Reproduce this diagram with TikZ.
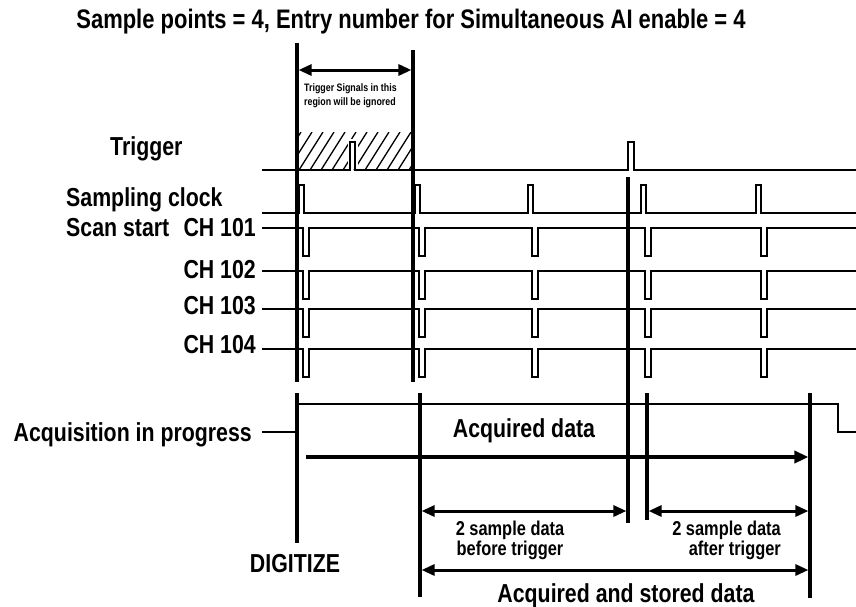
\documentclass[tikz,border=0pt]{standalone}
\usepackage{fontspec}
\setmainfont[FakeStretch=0.82]{Liberation Sans}
\usetikzlibrary{arrows.meta}

\begin{document}
\begin{tikzpicture}[x=1pt, y=-1pt,
    sig/.style={line width=1.8pt, line join=miter},
    bar/.style={line width=3.2pt},
    span/.style={line width=3pt, {Triangle[length=13pt,width=11pt]}-{Triangle[length=13pt,width=11pt]}},
    lbl/.style={font=\bfseries\fontsize{26}{28}\selectfont, inner sep=0pt},
    note/.style={font=\bfseries\fontsize{20}{17.5}\selectfont, inner sep=0pt, align=center}]
  \useasboundingbox (0,0) rectangle (856,606);

  % --- title ---------------------------------------------------------------
  \node[lbl, font=\bfseries\fontsize{26.8}{28}\selectfont, anchor=base] (title) at (411,28)
       {Sample points = 4, Entry number for Simultaneous AI enable = 4};

  % --- marker positions ------------------------------------------------------
  \coordinate (v1t) at (297,43);  \coordinate (v1b) at (297,382);
  \coordinate (v2t) at (413,50);  \coordinate (v2b) at (413,382);
  \coordinate (dgt) at (297,393); \coordinate (dgb) at (297,543);
  \coordinate (s1t) at (420,393); \coordinate (s1b) at (420,597);
  \coordinate (trt) at (628,177); \coordinate (trb) at (628,523);
  \coordinate (a1t) at (647,393); \coordinate (a1b) at (647,520);
  \coordinate (s2t) at (810,393); \coordinate (s2b) at (810,598);

  % --- ignored region --------------------------------------------------------
  \begin{scope}
    \clip (297,132) rectangle (413,170);
    \foreach \h in {266,277,...,420}
      \draw[line width=1.3pt] (\h,170) -- ++(24,-38);
  \end{scope}
  \fill[white] (347.5,139) rectangle (357.5,169);
  \draw[span] ([xshift=1.6pt]v1t |- 0,70) -- ([xshift=-1.6pt]v2t |- 0,70);
  \node[font=\bfseries\fontsize{10.8}{14}\selectfont, align=left, anchor=north west,
        inner sep=0pt] (ign) at (304,83) {Trigger Signals in this\\region will be ignored};

  % --- signals -----------------------------------------------------------------
  \node[lbl, anchor=base west] (trg) at (110,155) {Trigger};
  \draw[sig] (262,170) -- (350,170) -- (350,142) -- (355,142) -- (355,170)
       -- (628,170) -- (628,142) -- (634,142) -- (634,170) -- (856,170);

  \node[lbl, anchor=base west] (clk) at (66,206) {Sampling clock};
  \draw[sig] (262,213) foreach \p in {299,415,528,641,756}
       { -- (\p,213) -- (\p,185) -- (\p+5,185) -- (\p+5,213) } -- (856,213);

  \node[lbl, anchor=base west] (scan) at (66,236) {Scan start};
  \foreach \y/\t/\b in {228/101/236, 271/102/278, 309/103/314, 349/104/353} {
    \node[lbl, anchor=base east] (ch\t) at (256,\b) {CH \t};
    \draw[sig] (262,\y) foreach \p in {303,419,532,645,761}
         { -- (\p,\y) -- (\p,\y+28) -- (\p+6,\y+28) -- (\p+6,\y) } -- (856,\y);
  }

  % --- acquisition -------------------------------------------------------------
  \node[lbl, anchor=base east] (acq) at (252,441) {Acquisition in progress};
  \draw[sig] (262,432) -- (297,432) -- (297,404) -- (838,404) -- (838,432) -- (856,432);

  % --- markers -----------------------------------------------------------------
  \draw[bar, line width=3.5pt] (v1t) -- (v1b);
  \draw[bar, line width=3.5pt] (v2t) -- (v2b);
  \foreach \m in {dg,s1,tr,a1,s2}
    \draw[bar] (\m t) -- (\m b);

  % --- spans -------------------------------------------------------------------
  \draw[line width=3.8pt, -{Triangle[length=14pt,width=12pt]}]
       (306,457) -- ([xshift=-1.6pt]s2t |- 0,457);
  \node[lbl, anchor=base] (acqd) at (524,437) {Acquired data};

  \draw[span] ([xshift=1.6pt]s1t |- 0,511) -- ([xshift=-1.6pt]trt |- 0,511);
  \draw[span] ([xshift=1.6pt]a1t |- 0,511) -- ([xshift=-1.6pt]s2t |- 0,511);
  \node[note, anchor=north] (bef) at (510,521) {2 sample data\\before trigger};
  \node[note, align=right, anchor=north east] (aft) at (781,521) {2 sample data\\after trigger};

  \node[lbl, anchor=base] (dig) at (295,572) {DIGITIZE};

  \draw[span] ([xshift=1.6pt]s1t |- 0,570) -- ([xshift=-1.6pt]s2t |- 0,570);
  \node[lbl, anchor=base] (stored) at (626,602) {Acquired and stored data};
\end{tikzpicture}
\end{document}
